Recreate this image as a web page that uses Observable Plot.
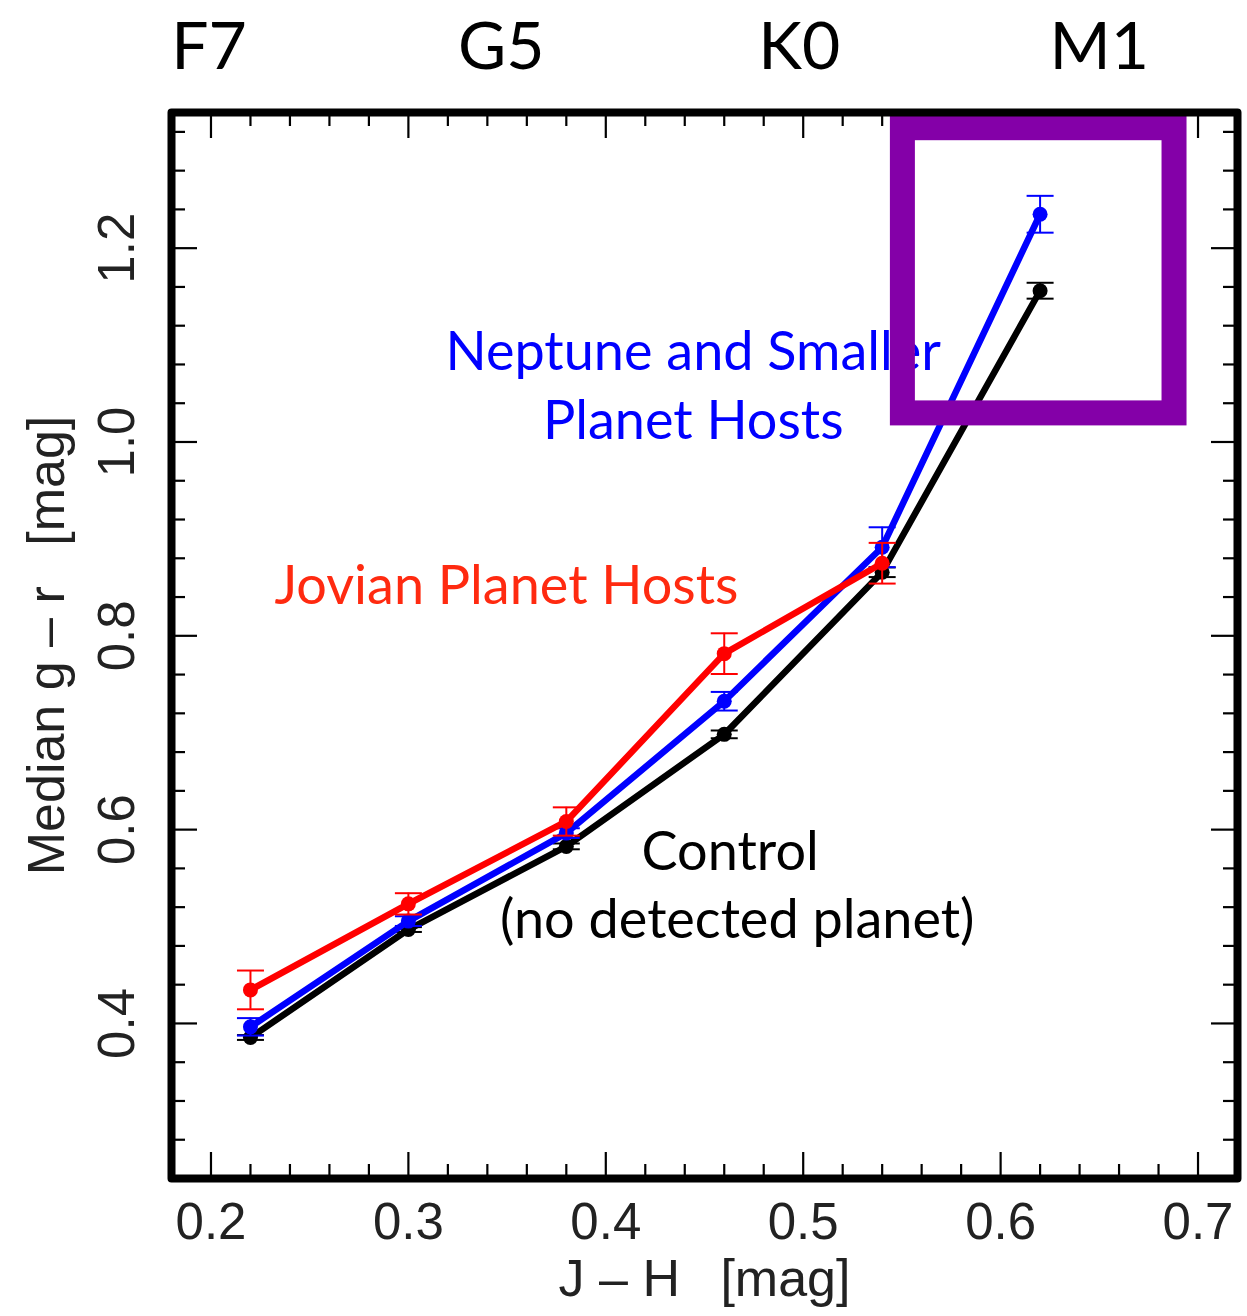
<!DOCTYPE html>
<html><head><meta charset="utf-8">
<script src="https://cdn.jsdelivr.net/npm/d3@7"></script>
<script src="https://cdn.jsdelivr.net/npm/@observablehq/plot@0.6"></script>
<style>body{margin:0;background:#fff}</style>
</head><body><div id="chart"></div>
<script>
// ---- data ----
const jh = [0.22, 0.30, 0.38, 0.46, 0.54, 0.62];
const controlGR  = [0.3855, 0.4969, 0.5827, 0.6983, 0.8656, 1.1561];
const controlErr = [0.0025, 0.0025, 0.003, 0.004, 0.005, 0.0082];
const neptuneGR  = [0.3965, 0.5056, 0.5964, 0.7325, 0.8914, 1.235];
const neptuneErr = [0.009, 0.005, 0.005, 0.0096, 0.0206, 0.019];
const jovianJH   = [0.22, 0.30, 0.38, 0.46, 0.54];
const jovianGR   = [0.4346, 0.5234, 0.6084, 0.7816, 0.8749];
const jovianErr  = [0.020, 0.011, 0.0146, 0.021, 0.021];

const xMajor = [0.2, 0.3, 0.4, 0.5, 0.6, 0.7];
const yMajor = [0.4, 0.6, 0.8, 1.0, 1.2];
const spectralTypes = ["F7", "G5", "K0", "M1"];
const spectralJH = [0.199, 0.347, 0.498, 0.650];

const annotations = [
  {text: "Neptune and Smaller", x: 0.4443, y: 1.0748, color: "#0000ff"},
  {text: "Planet Hosts", x: 0.4443, y: 1.0028, color: "#0000ff"},
  {text: "Jovian Planet Hosts", x: 0.3497, y: 0.833, color: "#ff2a10"},
  {text: "Control", x: 0.463, y: 0.5583, color: "#000000"},
  {text: "(no detected planet)", x: 0.4666, y: 0.4884, color: "#000000"}
];
const highlightBox = [{x1: 0.5505, x2: 0.6881, y1: 1.0295, y2: 1.3238}];

// ---- build ----
const width = 1247, height = 1316;
const mT = 112, mR = 10, mB = 138, mL = 171;
const PW = width - mL - mR, PH = height - mT - mB;

const mk = (xs, ys, es) => xs.map((x, i) => ({x, y: ys[i], e: es[i]}));
const series = [
  {data: mk(jh, controlGR, controlErr), color: "#000000"},
  {data: mk(jh, neptuneGR, neptuneErr), color: "#0000ff"},
  {data: mk(jovianJH, jovianGR, jovianErr), color: "#ff0000"}
];

const capSymbol = {draw(ctx) { ctx.moveTo(-13.5, 0); ctx.lineTo(13.5, 0); }};

const r2 = v => Math.round(v * 1000) / 1000;
const xMinor = d3.range(0.20, 0.7201, 0.02).map(r2).filter(v => !xMajor.some(m => Math.abs(m - v) < 1e-6));
const yMinor = d3.range(0.28, 1.3201, 0.04).map(r2).filter(v => !yMajor.some(m => Math.abs(m - v) < 1e-6));

const majLen = 26, minLen = 14, tickW = 2.2;
const tickStyle = {stroke: "#000", strokeWidth: tickW};

const marks = [];
// ticks inward on four sides
marks.push(Plot.ruleX(xMajor, {x: d => d, insetTop: PH - majLen, ...tickStyle}));
marks.push(Plot.ruleX(xMinor, {x: d => d, insetTop: PH - minLen, ...tickStyle}));
marks.push(Plot.ruleX(xMajor, {x: d => d, insetBottom: PH - majLen, ...tickStyle}));
marks.push(Plot.ruleX(xMinor, {x: d => d, insetBottom: PH - minLen, ...tickStyle}));
marks.push(Plot.ruleY(yMajor, {y: d => d, insetRight: PW - majLen, ...tickStyle}));
marks.push(Plot.ruleY(yMinor, {y: d => d, insetRight: PW - minLen, ...tickStyle}));
marks.push(Plot.ruleY(yMajor, {y: d => d, insetLeft: PW - majLen, ...tickStyle}));
marks.push(Plot.ruleY(yMinor, {y: d => d, insetLeft: PW - minLen, ...tickStyle}));

for (const s of series) {
  marks.push(Plot.line(s.data, {x: "x", y: "y", stroke: s.color, strokeWidth: 6.5, strokeLinejoin: "round", strokeLinecap: "round"}));
  marks.push(Plot.ruleX(s.data, {x: "x", y1: d => d.y - d.e, y2: d => d.y + d.e, stroke: s.color, strokeWidth: 2}));
  marks.push(Plot.dot(s.data, {x: "x", y: d => d.y - d.e, symbol: capSymbol, stroke: s.color, strokeWidth: 2, fill: "none"}));
  marks.push(Plot.dot(s.data, {x: "x", y: d => d.y + d.e, symbol: capSymbol, stroke: s.color, strokeWidth: 2, fill: "none"}));
  marks.push(Plot.dot(s.data, {x: "x", y: "y", r: 7.5, fill: s.color, stroke: "none"}));
}

// annotations
marks.push(Plot.text(annotations, {x: "x", y: "y", text: "text", fill: "color", fontSize: 54, fontFamily: "Lato", lineAnchor: "bottom", textAnchor: "middle"}));

// highlight box
marks.push(Plot.rect(highlightBox, {x1: "x1", x2: "x2", y1: "y1", y2: "y2", fill: "none", stroke: "#8400a8", strokeWidth: 25}));

// frame
marks.push(Plot.frame({stroke: "#000", strokeWidth: 8, strokeLinejoin: "round"}));

// tick labels
const labelFont = "Liberation Sans, Arial, Helvetica, sans-serif";
marks.push(Plot.text(xMajor, {x: d => d, text: d => d.toFixed(1), frameAnchor: "bottom", dy: 60, lineAnchor: "bottom", textAnchor: "middle", fontSize: 51, fontFamily: labelFont, fill: "#222"}));
marks.push(Plot.text(yMajor, {y: d => d, text: d => d.toFixed(1), frameAnchor: "left", dx: -38, rotate: -90, lineAnchor: "bottom", textAnchor: "middle", fontSize: 51, fontFamily: labelFont, fill: "#222"}));
// axis labels
marks.push(Plot.text(["J \u2013 H \u2002[mag]"], {text: d => d, frameAnchor: "bottom", dy: 117, lineAnchor: "bottom", textAnchor: "middle", fontSize: 52, fontFamily: labelFont, fill: "#222"}));
marks.push(Plot.text(["Median g \u2013 r \u2002[mag]"], {text: d => d, frameAnchor: "left", dx: -108, rotate: -90, lineAnchor: "bottom", textAnchor: "middle", fontSize: 52, fontFamily: labelFont, fill: "#222", letterSpacing: "0.04em"}));
// spectral types on top
marks.push(Plot.text(spectralTypes, {x: (d, i) => spectralJH[i], text: d => d, frameAnchor: "top", dy: -44, lineAnchor: "bottom", textAnchor: "middle", fontSize: 66, fontFamily: "Lato", fill: "#000"}));

const chart = Plot.plot({
  width, height,
  marginTop: mT, marginRight: mR, marginBottom: mB, marginLeft: mL,
  x: {domain: [0.18, 0.72], axis: null},
  y: {domain: [0.24, 1.34], axis: null},
  style: {background: "#fff", overflow: "visible"},
  marks
});
document.getElementById("chart").appendChild(chart);
</script>
</body></html>
